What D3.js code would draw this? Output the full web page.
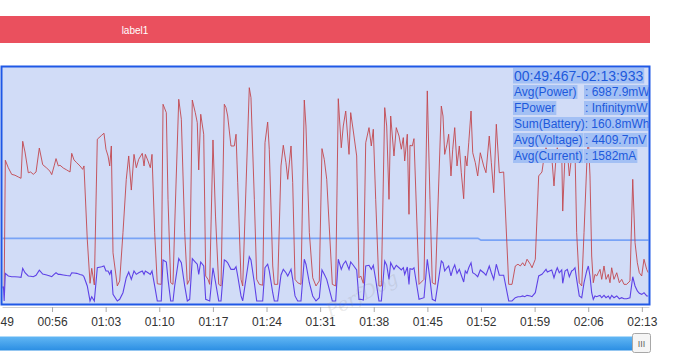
<!DOCTYPE html>
<html><head><meta charset="utf-8">
<script src="https://cdn.jsdelivr.net/npm/d3@7"></script>
<style>html,body{margin:0;padding:0;background:#fff;overflow:hidden}svg{display:block;font-family:"Liberation Sans",Arial,Helvetica,sans-serif}</style>
</head><body><svg id="c" width="684" height="360"></svg>
<script>
// ---- data (seconds, mW, mA, mV) ----
const times = [49.47,49.66,49.75,49.90,50.29,50.73,51.16,51.60,51.95,52.17,
52.47,52.90,53.21,53.55,53.91,54.34,54.78,55.30,55.73,55.96,
56.30,56.52,56.82,57.04,57.47,57.91,58.35,58.57,58.87,59.22,
59.65,60.00,60.17,60.60,60.96,61.18,61.52,61.91,62.48,62.78,
63.04,63.31,63.53,63.74,63.96,64.52,64.83,65.26,65.69,66.01,
66.35,66.70,67.00,67.31,67.78,68.01,68.18,68.53,68.83,69.05,
69.40,69.74,70.26,70.49,70.92,71.14,71.49,71.79,72.01,72.54,
72.88,73.32,73.66,73.97,74.31,74.70,74.96,75.15,75.41,75.80,
76.06,76.36,76.58,77.01,77.34,77.76,78.06,78.49,78.71,78.93,
79.36,79.79,80.02,80.24,80.67,80.89,81.75,81.97,82.41,82.72,
83.06,83.50,83.80,84.15,84.36,84.81,85.02,85.46,85.89,86.19,
86.54,86.77,87.20,87.42,87.72,88.07,88.50,88.93,89.15,89.59,
90.03,90.46,90.89,91.24,91.54,91.86,92.59,93.03,93.37,93.76,
94.02,94.34,94.77,94.99,95.33,95.77,96.07,96.30,96.64,96.95,
97.38,97.68,97.94,98.25,98.68,98.99,99.43,99.69,99.99,100.21,
100.64,100.94,101.30,101.60,101.86,102.04,102.38,102.60,102.73,103.03,
103.25,103.91,104.56,104.99,105.34,105.64,106.04,106.82,107.04,107.26,
107.56,107.78,108.08,108.31,108.57,108.87,109.17,109.43,109.74,109.95,
110.17,110.40,110.70,110.92,111.26,111.57,111.91,112.35,112.65,113.08,
113.35,113.66,114.00,114.39,114.96,115.62,116.05,116.48,116.83,117.13,
117.44,117.71,118.01,118.44,118.66,119.09,119.53,119.96,120.13,120.49,
120.66,121.23,121.53,121.79,121.96,122.22,122.54,122.67,122.97,123.27,
123.53,123.84,124.05,124.27,124.49,124.83,125.15,125.45,125.80,126.01,
126.23,126.45,126.66,126.88,127.11,127.31,127.54,127.76,128.06,128.32,
128.62,128.84,129.06,129.36,129.72,130.06,130.37,130.67,131.02,131.45,
131.81,132.11,132.41,132.67,132.98,133.28,133.63,133.84];

const power = [1090,950,890,9720,9210,8760,8700,8580,8490,11010,
10280,8870,8920,8760,8920,10550,9420,9190,8970,8740,
9380,9830,9330,9380,9190,9060,8920,10190,9740,9550,
9330,9100,9330,4340,1340,2360,1230,11150,11420,11560,
10470,10010,9330,10690,3420,1160,1500,4790,8420,10010,
7690,10120,9210,9780,10190,9330,10120,9670,9210,10120,
4790,1310,1270,13530,12960,7060,1380,1270,5240,13870,
12510,4790,1270,1610,13820,12960,12280,9060,12850,11490,
1840,1610,1270,11100,5920,1270,1160,13530,13300,12730,
10690,10690,11490,8190,1610,1160,14660,13980,7060,1610,
1270,1210,10910,12320,10470,2520,1270,1270,9330,10740,
9550,8420,10690,8190,1610,1380,1270,13820,12050,4790,
1720,1160,1500,10510,9780,8420,1270,1160,13910,10570,
12050,13070,10120,12960,11710,10010,1720,1840,1340,10910,
11940,10690,11830,7060,1160,1160,13300,12050,7060,12730,
10010,11940,11370,10470,11260,9670,11490,6040,10740,10690,
11190,1270,1610,14440,7060,1380,1270,13410,12730,10120,
10810,11490,8650,10470,11940,9330,10690,8870,7100,10010,
9330,10910,13070,10230,9550,8650,10230,9330,8870,11370,
9550,7510,12170,8870,8920,1270,1270,2520,2640,2520,
2740,2520,2980,2640,2400,2980,8650,8920,9550,10570,
10230,10010,7970,9890,10570,9550,10230,6260,10120,10350,
8650,10010,10230,10470,4790,1380,1160,4790,9330,11260,
8650,3200,1380,1950,1840,2060,2290,1610,2520,1610,
1950,1380,2400,1610,2060,1380,1610,1270,1270,1500,
8420,4110,2740,2060,1840,2980,2290,2060];

const current = [1110,1090,140,2020,1840,1790,1790,1770,1750,2360,
2060,1840,1820,1790,1890,2230,1970,1910,1840,1790,
1970,2060,1950,1950,1910,1870,1840,2060,2040,2020,
1940,1890,1790,1160,140,430,140,2400,2470,2520,
2180,2180,1950,2250,590,140,250,700,1720,2110,
1610,2180,1950,2060,2180,1950,2180,2060,1950,2180,
1160,140,140,2930,2790,1610,140,140,1160,3020,
2740,1160,140,250,3020,2790,2640,1950,2790,2520,
250,180,140,2400,1430,140,140,2930,2860,2740,
2290,2290,2470,1840,480,140,3150,2930,1380,140,
140,140,2400,2640,2180,700,140,140,1910,2290,
2060,1840,2290,1610,480,140,140,2980,2640,1380,
480,140,360,2250,1950,1610,140,140,2980,2290,
2640,2860,2290,2790,2570,2250,250,250,200,2520,
2570,2290,2570,1610,140,140,2860,2570,1610,2740,
2290,2570,2400,2250,2400,1950,2450,1270,2340,2290,
2400,250,360,2980,1610,250,140,2860,2740,2180,
2400,2520,1840,2290,2590,2020,2290,1890,1430,2180,
2020,2400,2740,2060,1950,1790,2250,2060,1890,2520,
2060,1610,2640,1890,1890,140,140,360,430,430,
480,430,520,480,430,700,1840,1950,2060,2290,
2110,2250,1720,2180,2400,2060,2250,1340,2180,2290,
1790,2180,2250,2400,1610,480,360,1380,2180,2520,
1840,700,250,480,430,480,520,360,520,360,
480,290,520,360,480,290,360,290,290,360,
1790,1160,820,660,590,700,480,480];

const voltageTimes = [49.467, 111.6, 112.0, 133.933];
const voltage = [4405, 4405, 4275, 4275];

const tickSeconds = [49,56,63,70,77,84,91,98,105,112,119,126,133];
const summaryTitle = "00:49:467-02:13:933";
const summaryLabels = ["Avg(Power)", "FPower", "Sum(Battery)", "Avg(Voltage)", "Avg(Current)"];
const summaryValues = [": 6987.9mW", ": InfinitymW", ": 160.8mWh", ": 4409.7mV", ": 1582mA"];
const bannerLabel = "label1";

// ---- drawing ----
const svg = d3.select("#c");
const defs = svg.append("defs");

// banner
svg.append("rect").attr("x",0).attr("y",16).attr("width",650).attr("height",27).attr("fill","#ea505e");
svg.append("text").attr("x",135).attr("y",33.5).attr("text-anchor","middle")
  .attr("fill","#fff").attr("font-size",10).text(bannerLabel);

const x = d3.scaleLinear().domain([49.467, 133.933]).range([2, 649]);
const y = d3.scaleLinear().domain([0, 16000]).range([303, 68]);

// plot background
svg.append("rect").attr("x",1.5).attr("y",66.5).attr("width",648).attr("height",238)
  .attr("fill","#d1dcf7");

defs.append("clipPath").attr("id","clip").append("rect")
  .attr("x",2.5).attr("y",67.5).attr("width",646).attr("height",236);

const g = svg.append("g").attr("clip-path","url(#clip)");

// voltage line
g.append("path").datum(voltageTimes.map((t,i)=>[t,voltage[i]]))
  .attr("fill","none").attr("stroke","#79a3f6").attr("stroke-width",1.7)
  .attr("d", d3.line().x(d=>x(d[0])).y(d=>y(d[1])));

const line = d3.line().x((d,i)=>x(times[i])).y(d=>y(d));
g.append("path").datum(power).attr("fill","none").attr("stroke","#c2474f")
  .attr("stroke-width",1).attr("stroke-opacity",0.9).attr("d", line);
g.append("path").datum(current).attr("fill","none").attr("stroke","#5e42e6")
  .attr("stroke-width",1.1).attr("d", line);

// summary text with highlight
const tg = g.append("g");
function hl(text, tx, ty, fs, top, bottom){
  const t = tg.append("text").attr("x",tx).attr("y",ty).attr("font-size",fs)
    .attr("fill","#1d59dc").text(text);
  const w = t.node().getComputedTextLength();
  tg.insert("rect","text").attr("x",tx-1).attr("y",ty-top).attr("width",w+2)
    .attr("height",top+bottom).attr("fill","#a3c0f4");
}
hl(summaryTitle, 514, 80.5, 14, 12.5, 3);
summaryLabels.forEach((lab,i)=>{
  const by = 96 + i*16;
  if (i === 2) {
    hl(lab + summaryValues[i], 514, by, 12, 11, 3);
  } else {
    hl(lab, 514, by, 12, 11, 3);
    hl(summaryValues[i], 585, by, 12, 11, 3);
  }
});

// border
svg.append("rect").attr("x",1.5).attr("y",66.5).attr("width",648).attr("height",238)
  .attr("fill","none").attr("stroke","#1f58e6").attr("stroke-width",2);

// x axis
const fmt = s => String(Math.floor(s/60)).padStart(2,"0") + ":" + String(s%60).padStart(2,"0");
const ax = svg.append("g").attr("transform","translate(0,307)")
  .call(d3.axisBottom(x).tickValues(tickSeconds).tickFormat(fmt).tickSize(5).tickSizeOuter(0));
ax.select(".domain").attr("stroke","#d0d0d0");
ax.selectAll(".tick line").attr("stroke","#aaa");
ax.selectAll(".tick text").attr("fill","#333").attr("font-size",12)
  .attr("font-family","Liberation Sans, Arial, sans-serif").attr("dy","0.95em");

// watermark
svg.append("text").attr("transform","translate(330,318) rotate(-27)")
  .attr("font-family","DejaVu Serif, serif").attr("font-style","italic").attr("font-size",19)
  .attr("fill","#888").attr("fill-opacity",0.18).text("PerfDog");

// scrollbar
const grad = defs.append("linearGradient").attr("id","sb").attr("x1",0).attr("y1",0).attr("x2",0).attr("y2",1);
grad.append("stop").attr("offset","0%").attr("stop-color","#62b7f4");
grad.append("stop").attr("offset","100%").attr("stop-color","#2b8ee3");
svg.append("rect").attr("x",0).attr("y",336.5).attr("width",634).attr("height",14).attr("fill","url(#sb)");
svg.append("rect").attr("x",632.5).attr("y",333.5).attr("width",18).attr("height",19).attr("rx",2)
  .attr("fill","#f5f5f5").attr("stroke","#a8a8a8");
svg.append("text").attr("x",641.5).attr("y",347).attr("text-anchor","middle")
  .attr("font-size",9).attr("fill","#666").text("III");
</script></body></html>
